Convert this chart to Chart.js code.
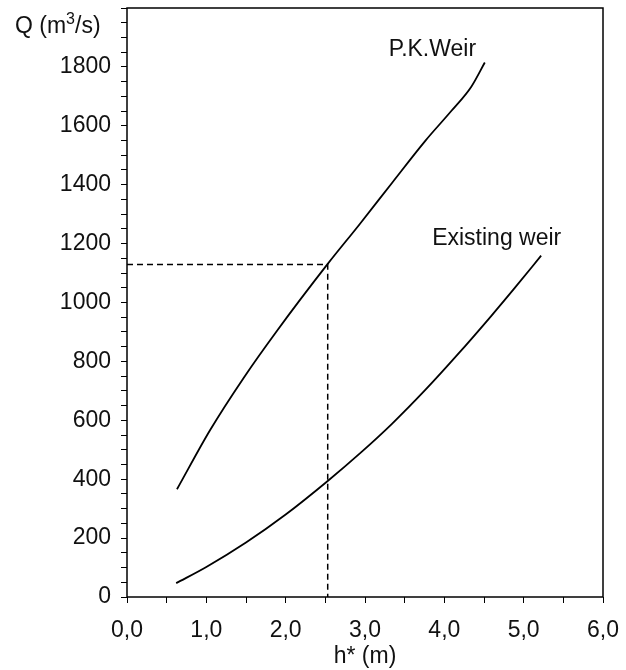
<!DOCTYPE html>
<html>
<head>
<meta charset="utf-8">
<script src="https://cdn.jsdelivr.net/npm/chart.js@4.4.0/dist/chart.umd.min.js"></script>
<style>
  html, body { margin: 0; padding: 0; background: #fff; }
  #wrap { width: 626px; height: 670px; }
</style>
</head>
<body>
<div id="wrap"><canvas id="weir-chart" width="626" height="670"></canvas></div>
<script>
// P.K. weir rating curve
let pkH = [0.63, 1.05, 1.47, 1.88, 2.53, 2.93, 3.34, 3.76, 4.09, 4.34, 4.51];
let pkQ = [366, 568, 744, 900, 1131, 1265, 1406, 1549, 1651, 1733, 1815];
// existing weir rating curve
let exH = [0.62, 1.00, 1.50, 2.00, 2.53, 2.95, 3.34, 3.76, 4.18, 4.59, 4.88, 5.22];
let exQ = [47, 102, 185, 280, 394, 491, 588, 703, 827, 954, 1047, 1159];
// dashed reading line
let refH = [0, 2.53, 2.53];
let refQ = [1129, 1129, 0];

let xTickLabels = ['0,0', '1,0', '2,0', '3,0', '4,0', '5,0', '6,0'];
let yTickLabels = ['0', '200', '400', '600', '800', '1000', '1200', '1400', '1600', '1800'];

let curveNames = ['P.K.Weir', 'Existing weir'];
let curveNameH = [3.85, 4.66];
let curveNameQ = [1860, 1218];

function toXY(xs, ys) {
  return xs.map(function(x, i) { return { x: x, y: ys[i] }; });
}

const FONT = "'Liberation Sans', Arial, sans-serif";

const framePlugin = {
  id: 'frame',
  afterDraw: function(chart) {
    const ctx = chart.ctx;
    const a = chart.chartArea;
    const sx = chart.scales.x, sy = chart.scales.y;
    ctx.save();
    ctx.strokeStyle = '#000';
    ctx.lineWidth = 1.5;
    ctx.strokeRect(a.left, a.top, a.right - a.left, a.bottom - a.top);
    ctx.fillStyle = '#111';
    ctx.font = '23px ' + FONT;
    ctx.textAlign = 'center';
    ctx.textBaseline = 'middle';
    for (let i = 0; i < curveNames.length; i++) {
      ctx.fillText(curveNames[i], sx.getPixelForValue(curveNameH[i]), sy.getPixelForValue(curveNameQ[i]));
    }
    // axis title "Q (m3/s)" with a raised 3
    ctx.textAlign = 'left';
    ctx.textBaseline = 'alphabetic';
    let x = 15, base = a.top + 25;
    ctx.font = '23px ' + FONT;
    ctx.fillText('Q (m', x, base);
    x += ctx.measureText('Q (m').width;
    ctx.font = '16px ' + FONT;
    ctx.fillText('3', x, base - 9);
    x += ctx.measureText('3').width;
    ctx.font = '23px ' + FONT;
    ctx.fillText('/s)', x, base);
    ctx.restore();
  }
};

document.addEventListener('DOMContentLoaded', function() {
  var ctx = document.getElementById('weir-chart').getContext('2d');
  new Chart(ctx, {
    type: 'line',
    data: {
      datasets: [
        {
          label: 'P.K.Weir',
          data: toXY(pkH, pkQ),
          borderColor: '#000',
          borderWidth: 1.8,
          pointRadius: 0,
          fill: false,
          cubicInterpolationMode: 'monotone'
        },
        {
          label: 'Existing weir',
          data: toXY(exH, exQ),
          borderColor: '#000',
          borderWidth: 1.8,
          pointRadius: 0,
          fill: false,
          cubicInterpolationMode: 'monotone'
        },
        {
          label: 'reading',
          data: toXY(refH, refQ),
          borderColor: '#000',
          borderWidth: 1.5,
          borderDash: [6, 4],
          pointRadius: 0,
          fill: false,
          tension: 0
        }
      ]
    },
    options: {
      responsive: false,
      animation: false,
      layout: { padding: { top: 8, right: 23, left: 0, bottom: 0 } },
      plugins: {
        legend: { display: false },
        tooltip: { enabled: false },
        title: { display: false }
      },
      scales: {
        x: {
          type: 'linear',
          min: 0,
          max: 6,
          border: { display: false },
          grid: { drawOnChartArea: false, tickLength: 6, color: '#000', lineWidth: 1 },
          ticks: {
            stepSize: 0.5,
            color: '#111',
            padding: 14,
            maxRotation: 0,
            autoSkip: false,
            font: { family: FONT, size: 23 },
            callback: function(v, i) { return i % 2 === 0 ? xTickLabels[i / 2] : ''; }
          },
          title: {
            display: true,
            text: 'h* (m)',
            color: '#111',
            padding: { top: 0, bottom: 0 },
            font: { family: FONT, size: 23 }
          },
          afterFit: function(scale) {
            scale.height = 73;
            scale.paddingLeft = 0;
            scale.paddingRight = 0;
          }
        },
        y: {
          min: 0,
          max: 2000,
          border: { display: false },
          grid: { drawOnChartArea: false, tickLength: 6, color: '#000', lineWidth: 1 },
          ticks: {
            stepSize: 50,
            color: '#111',
            padding: 10,
            autoSkip: false,
            font: { family: FONT, size: 23 },
            callback: function(v, i) { return (i % 4 === 0 && i / 4 < yTickLabels.length) ? yTickLabels[i / 4] : ''; }
          },
          afterFit: function(scale) {
            scale.width = 127;
            scale.paddingTop = 0;
            scale.paddingBottom = 0;
          }
        }
      }
    },
    plugins: [framePlugin]
  });
});
</script>
</body>
</html>
